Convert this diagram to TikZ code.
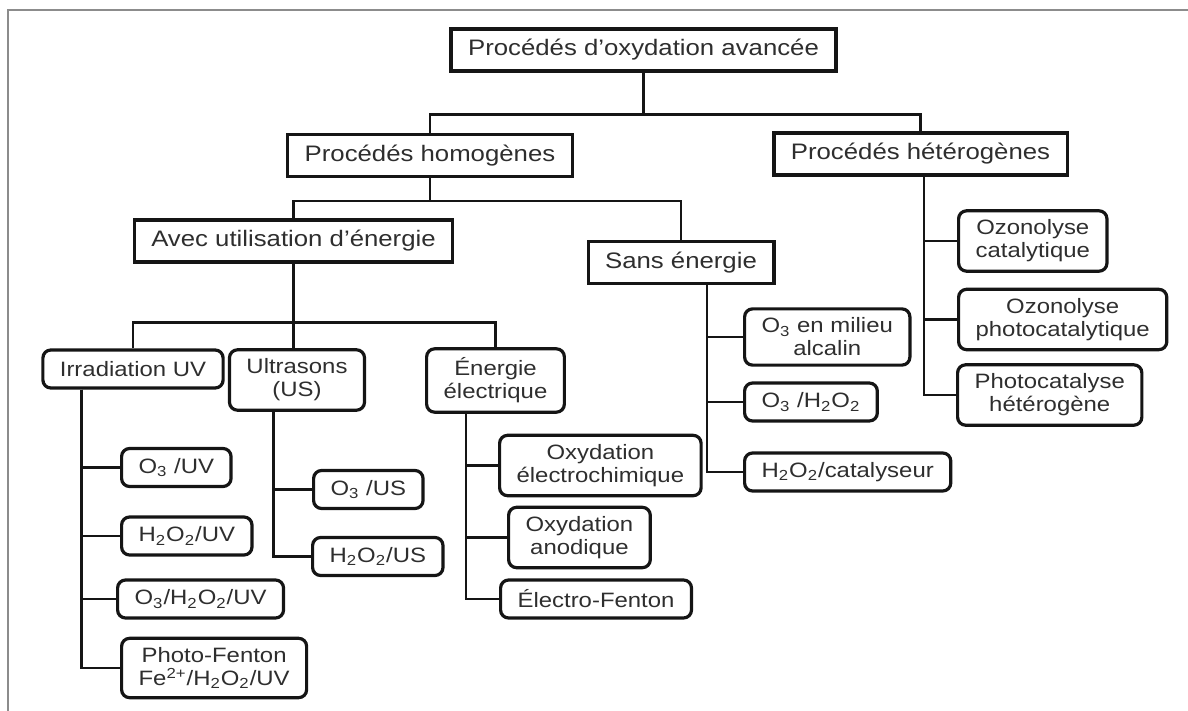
\documentclass[tikz,border=0pt]{standalone}
\usepackage{fontspec}
\setmainfont{Liberation Sans}[FakeStretch=1.15]
\usetikzlibrary{calc}
\definecolor{boxline}{HTML}{151515}
\definecolor{boxtext}{HTML}{2E2E2E}
\definecolor{frameline}{HTML}{8C8C8C}
\tikzset{
  head/.style={rectangle, draw=boxline, line width=1.6pt, text=boxtext,
               inner xsep=8.5pt, inner ysep=4.5pt, minimum height=21pt,
               font=\fontsize{11.2}{13}\selectfont},
  branch/.style={rectangle, rounded corners=4pt, draw=boxline, line width=1.6pt,
                 text=boxtext, align=center, inner xsep=8.5pt, inner ysep=4.5pt,
                 minimum height=19pt, font=\fontsize{10.4}{11.5}\selectfont},
  leaf/.style={branch, anchor=west},
  link/.style={line width=1.4pt, draw=boxline},
  frame/.style={line width=1pt, draw=frameline},
}
\newcommand{\ix}[1]{\textsubscript{#1}}

\begin{document}
\begin{tikzpicture}[x=0.5pt, y=-0.5pt]
\useasboundingbox (0,0) rectangle (1188,711);

% Frame (open on right and bottom)
\draw[frame] (8,711) -- (8,10) -- (1188,10);

% Upper levels
\node[head] (root)   at (643.5,50)  {Procédés d’oxydation avancée};
\node[head] (homog)  at (430,155.5) {Procédés homogènes};
\node[head] (hetero) at (920.5,154) {Procédés hétérogènes};
\node[head] (avec)   at (293.5,241) {Avec utilisation d’énergie};
\node[head] (sans)   at (681,262.5) {Sans énergie};

% Energy types
\node[branch] (irr)   at (133,369)     {Irradiation UV};
\node[branch] (ultra) at (297,380)     {Ultrasons\\(US)};
\node[branch] (elec)  at (495.5,380.5) {Énergie\\électrique};

% UV
\node[leaf] (o3uv)        at (120,467.5) {O\ix{3} /UV};
\node[leaf] (h2o2uv)      at (120,536)   {H\ix{2}O\ix{2}/UV};
\node[leaf] (o3h2o2uv)    at (116,599)   {O\ix{3}/H\ix{2}O\ix{2}/UV};
\node[leaf] (photofenton) at (120,668)   {Photo-Fenton\\Fe\textsuperscript{2+}/H\ix{2}O\ix{2}/UV};

% Ultrasons
\node[leaf] (o3us)   at (312,489.5) {O\ix{3} /US};
\node[leaf] (h2o2us) at (311,556.5) {H\ix{2}O\ix{2}/US};

% Electric
\node[leaf] (oxelec)   at (498,465.5) {Oxydation\\électrochimique};
\node[leaf] (oxano)    at (507,537.5) {Oxydation\\anodique};
\node[leaf] (elfenton) at (499,599)   {Électro-Fenton};

% Without energy
\node[leaf] (o3alc)   at (743,337) {O\ix{3} en milieu\\alcalin};
\node[leaf] (o3h2o2)  at (743,402) {O\ix{3} /H\ix{2}O\ix{2}};
\node[leaf] (h2o2cat) at (743,472) {H\ix{2}O\ix{2}/catalyseur};

% Heterogeneous
\node[leaf] (ozcat)    at (957,241)   {Ozonolyse\\catalytique};
\node[leaf] (ozphoto)  at (957,319.5) {Ozonolyse\\photocatalytique};
\node[leaf] (photocat) at (956,395)   {Photocatalyse\\hétérogène};

% Tree links
\draw[link] (root.south) -- ++(0,42) -| (homog.north);
\draw[link] (root.south) -- ++(0,42) -| (hetero.north);
\draw[link] (homog.south) -- ++(0,23) -| (avec.north);
\draw[link] (homog.south) -- ++(0,23) -| (sans.north);
\draw[link] (avec.south) -- (avec.south |- ultra.north);
\draw[link] (irr.north) -- ++(0,-26) -| (elec.north);

% Trunks to leaves
\coordinate (irrtrunk)    at ($(irr.south west)+(40,0)$);
\coordinate (ultratrunk)  at ($(ultra.south west)+(46,0)$);
\coordinate (electrunk)   at ($(elec.south west)+(41,0)$);
\coordinate (sanstrunk)   at ($(sans.south)+(26,0)$);
\coordinate (heterotrunk) at ($(hetero.south)+(3.5,0)$);
\foreach \c in {o3uv, h2o2uv, o3h2o2uv, photofenton}
  \draw[link] (irrtrunk) |- (\c.west);
\foreach \c in {o3us, h2o2us}
  \draw[link] (ultratrunk) |- (\c.west);
\foreach \c in {oxelec, oxano, elfenton}
  \draw[link] (electrunk) |- (\c.west);
\foreach \c in {o3alc, o3h2o2, h2o2cat}
  \draw[link] (sanstrunk) |- (\c.west);
\foreach \c in {ozcat, ozphoto, photocat}
  \draw[link] (heterotrunk) |- (\c.west);

\end{tikzpicture}
\end{document}
